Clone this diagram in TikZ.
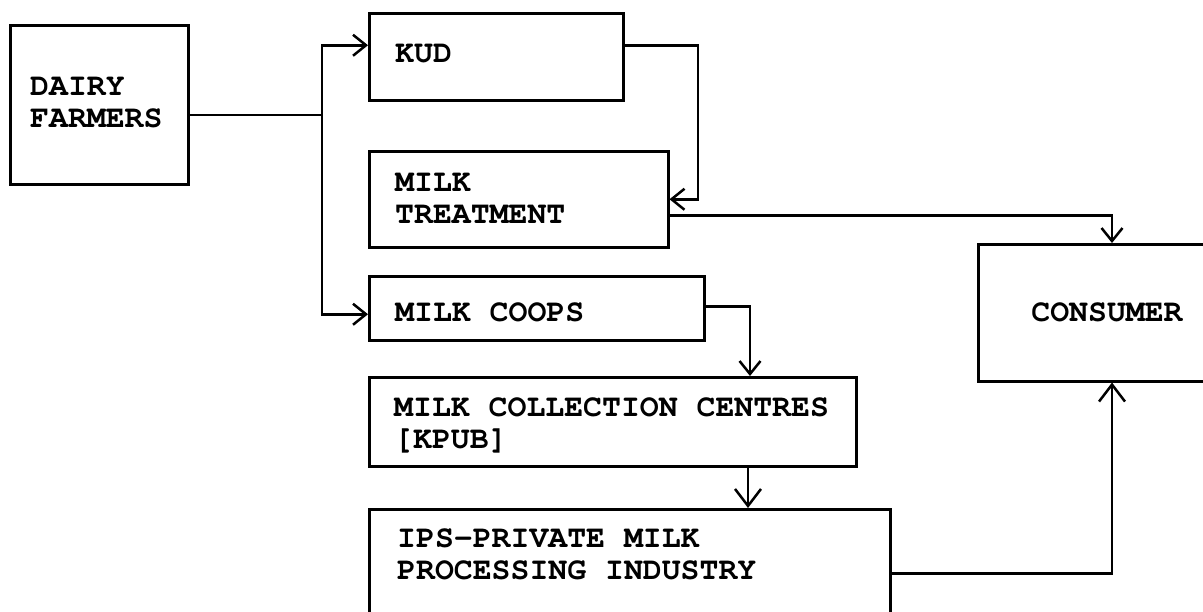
\documentclass[tikz,border=0pt]{standalone}
\usepackage{fontspec}
\usetikzlibrary{arrows.meta}
% typewriter face: Courier (pcr) in T1 encoding, bold series
\newcommand{\typewriterface}{\fontencoding{T1}\fontfamily{pcr}\fontseries{b}\fontsize{31.5}{32}\selectfont}
\begin{document}
\begin{tikzpicture}[x=1pt,y=-1pt,
  box/.style={draw, line width=2.5pt, inner sep=0pt, anchor=north west},
  lbl/.style={font=\typewriterface, inner sep=0pt, anchor=north west, align=left},
  link/.style={line width=2.5pt},
  arr/.style={link, -{Straight Barb[length=13pt,width=21pt]}},
  bigarr/.style={link, -{Straight Barb[length=17pt,width=26pt]}}]
\useasboundingbox (0,0) rectangle (1203,611);
\fill[white] (0,0) rectangle (1203,611);

% boxes
\node[box, minimum width=178pt, minimum height=159pt] (df)  at (9,24)   {};
\node[box, minimum width=254pt, minimum height=87pt]  (kud) at (368,12)  {};
\node[box, minimum width=299pt, minimum height=96pt]  (mt)  at (368,150) {};
\node[box, minimum width=335pt, minimum height=64pt]  (mc)  at (368,275) {};
\node[box, minimum width=487pt, minimum height=89pt]  (mcc) at (368,376) {};
\node[box, minimum width=521pt, minimum height=117pt] (ips) at (368,508) {};
\node[box, minimum width=238pt, minimum height=137pt] (con) at (977,243) {};

% labels
\node[lbl] (dft)  at (30,78)   {DAIRY\\FARMERS};
\node[lbl] (kudt) at (395,45)  {KUD};
\node[lbl] (mtt)  at (395,174) {MILK\\TREATMENT};
\node[lbl] (mct)  at (395,303) {MILK COOPS};
\node[lbl] (mcct) at (394,398) {MILK COLLECTION CENTRES\\{[KPUB]}};
\node[lbl] (ipst) at (397,529) {IPS-PRIVATE MILK\\PROCESSING INDUSTRY};
\node[lbl, anchor=center] (cont) at (1107,312) {CONSUMER};

% routing columns
\coordinate (split) at (322,115);
\coordinate (kudx)  at (698,0);
\coordinate (mcx)   at (750,0);
\coordinate (ipx)   at (748,0);
\coordinate (cx)    at (1112,0);

% connectors
\draw[link] (df.east |- split) -- (split);
\draw[arr] (split) |- ([yshift=11.5pt]kud.west);
\draw[arr] (split) |- ([yshift=-6pt]mc.west);
\draw[arr] ([yshift=11.5pt]kud.east) -| (kudx |- mt.east) -- (mt.east);
\draw[arr] ([yshift=-16pt]mt.east) -| (cx |- con.north);
\draw[arr] ([yshift=2pt]mc.east) -| (mcx |- mcc.north);
\draw[bigarr] (ipx |- mcc.south) -- (ipx |- ips.north);
\draw[bigarr] ([yshift=-5.5pt]ips.east) -| (cx |- con.south);
\end{tikzpicture}
\end{document}
